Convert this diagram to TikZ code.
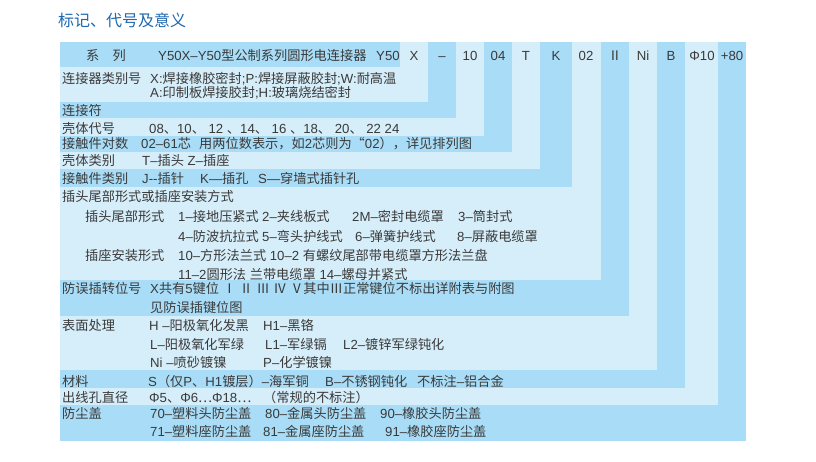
\documentclass[tikz,border=0pt]{standalone}
\usepackage{fontspec}
\usepackage{tikz}
\setmainfont{Liberation Sans}
\newfontfamily\cjkfont{Noto Sans CJK SC}
% Han runs switch to the CJK face, Latin stays in the main face
\newcount\cjkidx
\newXeTeXintercharclass\cjkclass
\newcommand\setcharrange[3]{%
  \cjkidx=#1\relax
  \loop
    \XeTeXcharclass\cjkidx=#3\relax
  \ifnum\cjkidx<#2\relax \advance\cjkidx by 1 \repeat}
\setcharrange{"0021}{"007E}{0}
\setcharrange{"2013}{"2014}{0}
\setcharrange{"03A6}{"03A6}{0}
\setcharrange{"4E00}{"9FFF}{\cjkclass}
\setcharrange{"3000}{"303F}{\cjkclass}
\setcharrange{"FF00}{"FFEF}{\cjkclass}
\setcharrange{"2160}{"217F}{\cjkclass}
\setcharrange{"201C}{"201D}{\cjkclass}
\setcharrange{"2026}{"2026}{\cjkclass}
\XeTeXinterchartoks 0 \cjkclass = {\begingroup\cjkfont}
\XeTeXinterchartoks 4095 \cjkclass = {\begingroup\cjkfont}
\XeTeXinterchartoks \cjkclass 0 = {\endgroup}
\XeTeXinterchartoks \cjkclass 4095 = {\endgroup}
\XeTeXinterchartokenstate=1

\definecolor{bandblue}{HTML}{A9DDF7}
\definecolor{bandpale}{HTML}{D6EEFA}
\definecolor{ink}{HTML}{3A3A3A}
\definecolor{titleblue}{HTML}{1E68B0}
\tikzset{
  cell/.style={anchor=base west, inner sep=0pt, text=ink, font=\fontsize{13.2}{16}\selectfont},
  code/.style={anchor=base, inner sep=0pt, text=ink, font=\fontsize{13.2}{16}\selectfont},
  heading/.style={anchor=base west, inner sep=0pt, text=titleblue, font=\fontsize{16}{20}\selectfont},
}

\begin{document}
\begin{tikzpicture}[x=1pt, y=-1pt]
  \useasboundingbox (0,0) rectangle (816,461);

  % Staircase of nested bands, outermost column first
  \foreach \r/\b/\c in {746/441/bandblue, 718/405/bandpale, 685/388/bandblue,
      657/370/bandpale, 629/316/bandblue, 601/280/bandpale, 572/187/bandblue,
      540/169/bandpale, 512/152/bandblue, 484/136/bandpale, 456/118/bandblue,
      428/102/bandpale, 400/67/bandblue}
    \fill[\c] (60,42) rectangle (\r,\b);

  % Title
  \node[heading] (title) at (58,26) {标记、代号及意义};

  % Header row
  \node[cell] (h0) at (86,60) {系　列};
  \node[cell] (h1) at (158,60) {Y50X–Y50型公制系列圆形电连接器};
  \node[cell] (h2) at (376,60) {Y50};
  \foreach \x/\t [count=\i] in {414/X, 442/–, 470/10, 498/04, 526/T, 556/K,
      586/02, 615/Ⅱ, 643/Ni, 671/B, 702/Φ10, 732/+80}
    \node[code] (c\i) at (\x,60) {\t};

  % Connector class
  \node[cell] (r1) at (62,83) {连接器类别号};
  \node[cell] (r1a) at (150,83) {X:焊接橡胶密封;P:焊接屏蔽胶封;W:耐高温};
  \node[cell] (r1b) at (150,97) {A:印制板焊接胶封;H:玻璃烧结密封};

  % Joiner, shell size, contact count, shell type, contact type
  \node[cell] (r2) at (62,115) {连接符};
  \node[cell] (r3) at (62,133) {壳体代号};
  \node[cell] (r3a) at (149,133) {08、10、 12 、14、 16 、18、 20、 22 24};
  \node[cell] (r4) at (62,148) {接触件对数};
  \node[cell] (r4a) at (141,148) {02–61芯};
  \node[cell] (r4b) at (199,148) {用两位数表示，如2芯则为“02），详见排列图};
  \node[cell] (r5) at (62,165) {壳体类别};
  \node[cell] (r5a) at (142,165) {T–插头 Z–插座};
  \node[cell] (r6) at (62,183) {接触件类别};
  \node[cell] (r6a) at (142,183) {J-{}-插针};
  \node[cell] (r6b) at (200,183) {K—插孔};
  \node[cell] (r6c) at (258,183) {S—穿墙式插针孔};

  % Plug tail / receptacle mounting
  \node[cell] (r7) at (62,201) {插头尾部形式或插座安装方式};
  \node[cell] (r7a) at (85,221) {插头尾部形式};
  \node[cell] (r7b) at (178,221) {1–接地压紧式};
  \node[cell] (r7c) at (262,221) {2–夹线板式};
  \node[cell] (r7d) at (352,221) {2M–密封电缆罩};
  \node[cell] (r7e) at (458,221) {3–筒封式};
  \node[cell] (r7f) at (178,241) {4–防波抗拉式};
  \node[cell] (r7g) at (262,241) {5–弯头护线式};
  \node[cell] (r7h) at (355,241) {6–弹簧护线式};
  \node[cell] (r7i) at (457,241) {8–屏蔽电缆罩};
  \node[cell] (r7j) at (85,260) {插座安装形式};
  \node[cell] (r7k) at (178,260) {10–方形法兰式 10–2 有螺纹尾部带电缆罩方形法兰盘};
  \node[cell] (r7l) at (178,279) {11–2圆形法 兰带电缆罩 14–螺母并紧式};

  % Keying position
  \node[cell] (r8) at (62,293) {防误插转位号};
  \node[cell] (r8a) at (150,293) {X共有5键位 Ⅰ Ⅱ Ⅲ Ⅳ Ⅴ其中Ⅲ正常键位不标出详附表与附图};
  \node[cell] (r8b) at (150,312) {见防误插键位图};

  % Surface finish
  \node[cell] (r9) at (62,330) {表面处理};
  \node[cell] (r9a) at (149,330) {H –阳极氧化发黑};
  \node[cell] (r9b) at (263,330) {H1–黑铬};
  \node[cell] (r9c) at (150,349) {L–阳极氧化军绿};
  \node[cell] (r9d) at (265,349) {L1–军绿镉};
  \node[cell] (r9e) at (343,349) {L2–镀锌军绿钝化};
  \node[cell] (r9f) at (150,367) {Ni –喷砂镀镍};
  \node[cell] (r9g) at (263,367) {P–化学镀镍};

  % Material, outlet diameter, dust cap
  \node[cell] (r10) at (62,386) {材料};
  \node[cell] (r10a) at (148,386) {S（仅P、H1镀层）–海军铜};
  \node[cell] (r10b) at (325,386) {B–不锈钢钝化};
  \node[cell] (r10c) at (417,386) {不标注–铝合金};
  \node[cell] (r11) at (62,402) {出线孔直径};
  \node[cell] (r11a) at (149,402) {Φ5、Φ6…Φ18…};
  \node[cell] (r11b) at (263,402) {（常规的不标注）};
  \node[cell] (r12) at (62,418) {防尘盖};
  \node[cell] (r12a) at (150,418) {70–塑料头防尘盖};
  \node[cell] (r12b) at (265,418) {80–金属头防尘盖};
  \node[cell] (r12c) at (380,418) {90–橡胶头防尘盖};
  \node[cell] (r12d) at (150,436) {71–塑料座防尘盖};
  \node[cell] (r12e) at (263,436) {81–金属座防尘盖};
  \node[cell] (r12f) at (385,436) {91–橡胶座防尘盖};
\end{tikzpicture}
\end{document}
